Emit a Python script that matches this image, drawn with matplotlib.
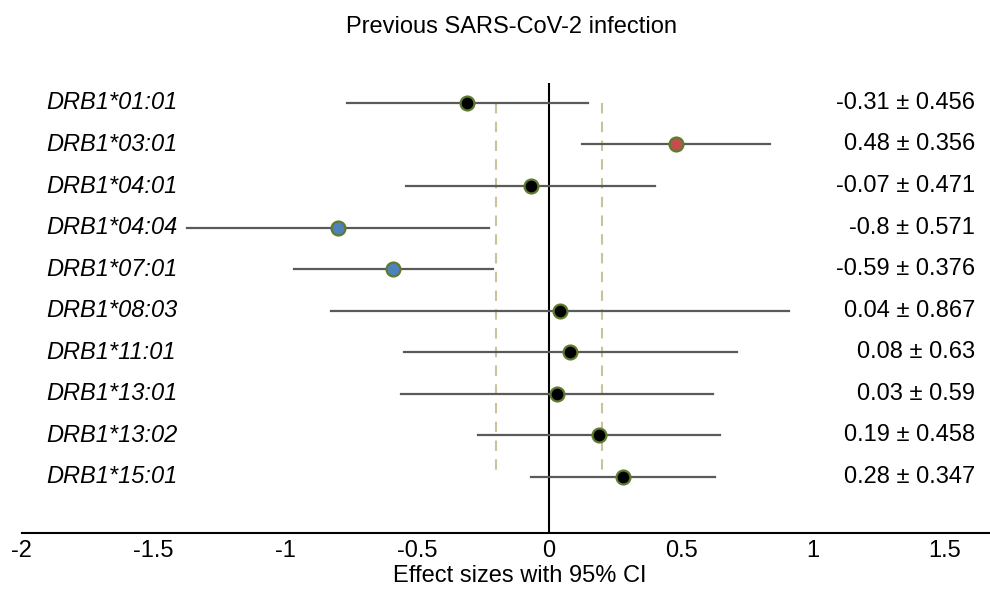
import matplotlib
matplotlib.use("Agg")
import matplotlib.pyplot as plt

alleles = ["DRB1*01:01", "DRB1*03:01", "DRB1*04:01", "DRB1*04:04", "DRB1*07:01",
           "DRB1*08:03", "DRB1*11:01", "DRB1*13:01", "DRB1*13:02", "DRB1*15:01"]
effects = [-0.31, 0.48, -0.07, -0.8, -0.59, 0.04, 0.08, 0.03, 0.19, 0.28]
ci_half = [0.456, 0.356, 0.471, 0.571, 0.376, 0.867, 0.63, 0.59, 0.458, 0.347]
effect_labels = ["-0.31 ± 0.456", "0.48 ± 0.356", "-0.07 ± 0.471", "-0.8 ± 0.571",
                 "-0.59 ± 0.376", "0.04 ± 0.867", "0.08 ± 0.63", "0.03 ± 0.59",
                 "0.19 ± 0.458", "0.28 ± 0.347"]
x_ticks = [-2, -1.5, -1, -0.5, 0, 0.5, 1, 1.5]
x_tick_labels = ["-2", "-1.5", "-1", "-0.5", "0", "0.5", "1", "1.5"]
threshold = 0.2

plt.rcParams['font.family'] = ['Liberation Sans', 'DejaVu Sans']

W, H = 990, 589
L = 21
fig = plt.figure(figsize=(W/100, H/100), dpi=100)
ax = fig.add_axes([L/W, (H-533)/H, 1 - L/W, (533-83)/H])

ax.set_xlim(-2.0, 1.67)
ax.set_ylim(10.35, -0.48)

# dashed threshold lines
for t in (-threshold, threshold):
    ax.plot([t, t], [0, 9], color="#c9c29b", lw=1.5, ls=(0, (5, 4)), zorder=1)

ax.axvline(0, color="black", lw=1.5, zorder=2)

for i, (m, h) in enumerate(zip(effects, ci_half)):
    ax.plot([m - h, m + h], [i, i], color="#5a5a5a", lw=1.6, zorder=3)
    if m - h > 0:
        fc = "#c0504d"
    elif m + h < 0:
        fc = "#4f81bd"
    else:
        fc = "black"
    ax.plot([m], [i], marker="o", ms=10, mfc=fc, mec="#5f7a2e", mew=1.6, zorder=4)

fs = 17
for i, (a, lab) in enumerate(zip(alleles, effect_labels)):
    ax.text((46-L)/(W-L), i, a, transform=ax.get_yaxis_transform(), fontsize=fs,
            style="italic", ha="left", va="center")
    ax.text((975-L)/(W-L), i, lab, transform=ax.get_yaxis_transform(),
            fontsize=fs, ha="right", va="center")

for s in ("top", "right", "left"):
    ax.spines[s].set_visible(False)
ax.spines["bottom"].set_linewidth(1.5)
ax.spines["bottom"].set_bounds(-1.996, 1.67)
ax.set_yticks([])
ax.set_xticks(x_ticks)
ax.set_xticklabels(x_tick_labels, fontsize=fs)
ax.tick_params(axis="x", length=0, pad=5)
ax.set_xlabel("Effect sizes with 95% CI", fontsize=fs)
ax.xaxis.set_label_coords((520-L)/(W-L), -(576-533)/(533-83), transform=ax.transAxes)
ax.xaxis.label.set_va("center")

fig.text(511/W, 1 - 27/H, "Previous SARS-CoV-2 infection", fontsize=fs,
         ha="center", va="center")

fig.savefig("out.png", dpi=100)
